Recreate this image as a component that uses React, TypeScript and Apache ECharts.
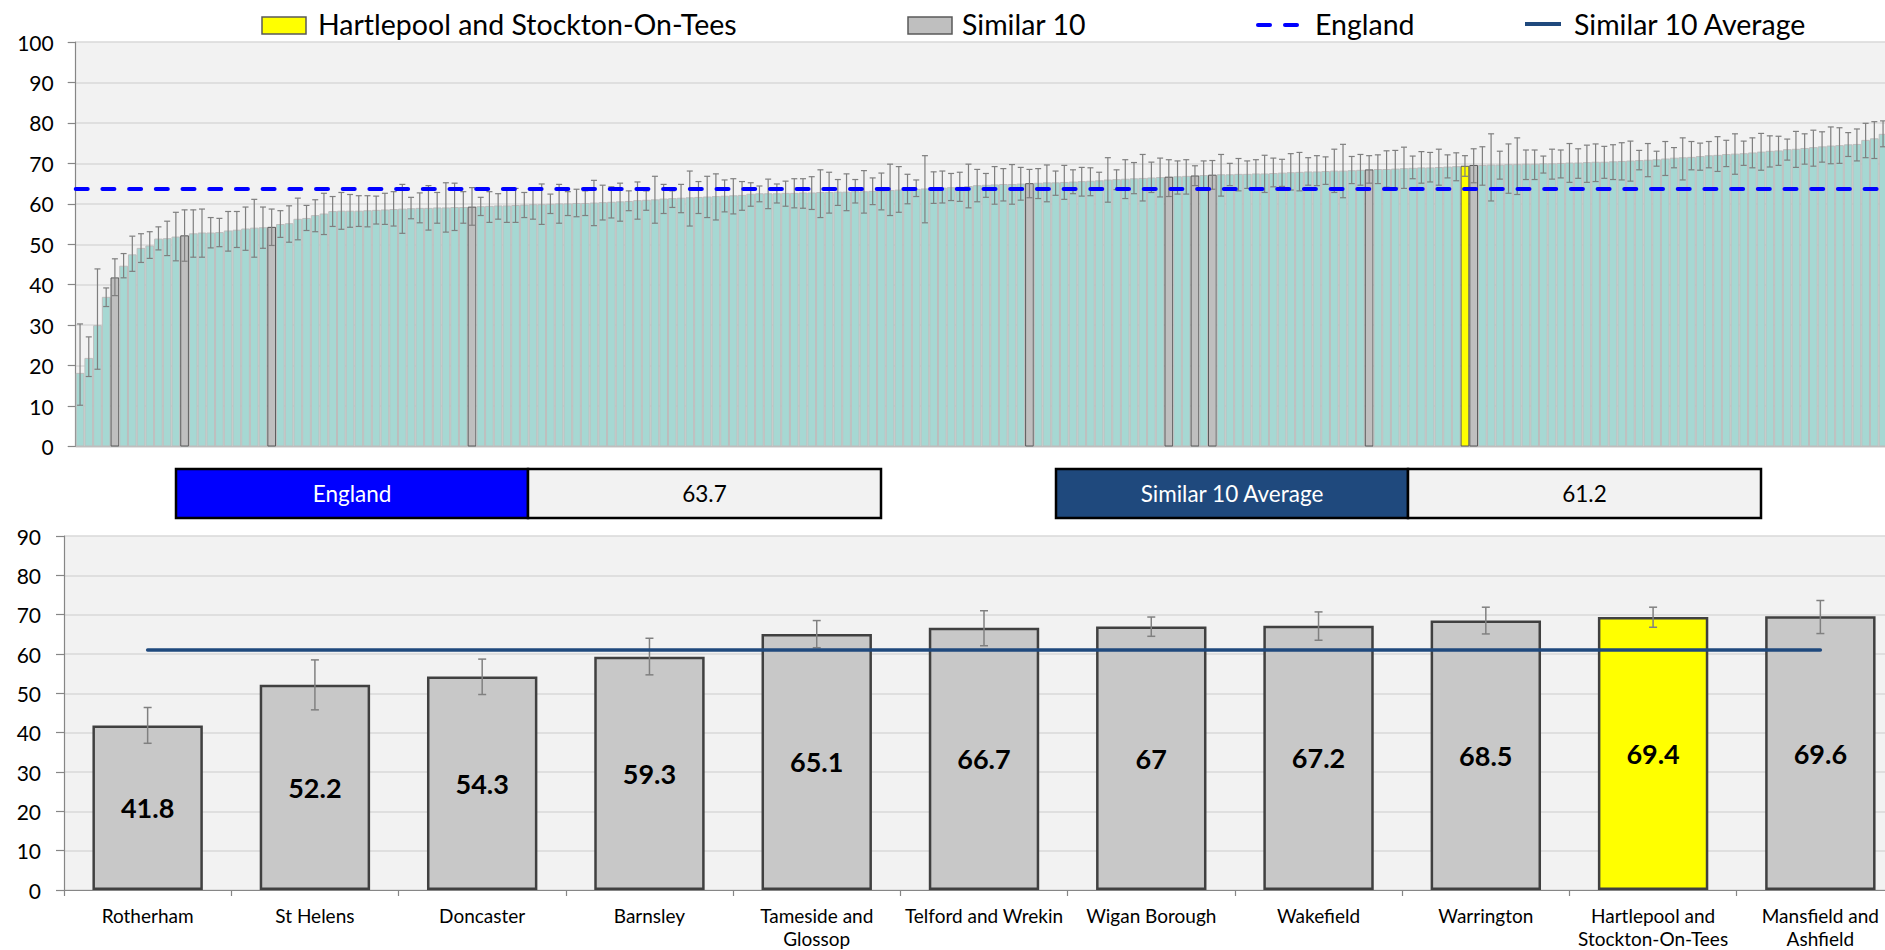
import React, { useEffect, useRef } from 'react';
import * as echarts from 'echarts';

// ---------- data ----------
const englandValue = 63.7;
const similarAverage = 61.2;
const targetName = 'Hartlepool and Stockton-On-Tees';

// All areas, sorted ascending (top chart)
const allValues = [
  18.2, 21.9, 30.0, 37.0, 41.8, 44.7, 47.5, 49.1, 49.7, 51.4,
  51.5, 51.9, 52.2, 52.7, 52.9, 52.9, 53.0, 53.4, 53.6, 53.9,
  54.1, 54.2, 54.3, 55.0, 55.2, 56.3, 56.5, 57.2, 57.6, 58.2,
  58.3, 58.3, 58.3, 58.4, 58.5, 58.6, 58.7, 58.8, 58.9, 59.0,
  59.0, 59.1, 59.1, 59.2, 59.2, 59.3, 59.4, 59.5, 59.6, 59.6,
  59.7, 59.8, 59.9, 59.9, 60.0, 60.1, 60.1, 60.2, 60.2, 60.3,
  60.4, 60.5, 60.6, 60.7, 60.9, 61.0, 61.1, 61.3, 61.4, 61.5,
  61.6, 61.7, 61.8, 61.9, 62.0, 62.1, 62.2, 62.5, 62.6, 62.6,
  62.6, 62.7, 62.7, 62.8, 62.8, 62.9, 62.9, 63.0, 63.0, 63.1,
  63.1, 63.2, 63.3, 63.4, 63.5, 63.6, 63.7, 63.8, 63.9, 64.0,
  64.1, 64.2, 64.4, 64.6, 64.7, 64.8, 64.9, 64.9, 65.0, 65.1,
  65.2, 65.3, 65.3, 65.4, 65.5, 65.6, 65.7, 65.8, 66.0, 66.1,
  66.2, 66.3, 66.4, 66.5, 66.6, 66.7, 66.8, 66.9, 67.0, 67.1,
  67.2, 67.3, 67.3, 67.4, 67.4, 67.5, 67.5, 67.6, 67.7, 67.8,
  67.9, 68.0, 68.0, 68.1, 68.2, 68.2, 68.3, 68.4, 68.5, 68.6,
  68.6, 68.7, 68.8, 68.9, 69.0, 69.0, 69.1, 69.2, 69.3, 69.4,
  69.6, 69.6, 69.7, 69.7, 69.8, 69.8, 69.9, 69.9, 70.0, 70.0,
  70.1, 70.2, 70.2, 70.3, 70.4, 70.4, 70.5, 70.6, 70.7, 70.8,
  70.9, 71.0, 71.2, 71.4, 71.5, 71.6, 71.8, 72.0, 72.1, 72.3,
  72.4, 72.5, 72.7, 72.9, 73.1, 73.2, 73.5, 73.6, 73.8, 74.0,
  74.2, 74.4, 74.5, 74.7, 74.8, 75.8, 76.2, 77.3,
];
const allUpper = [
  30.3, 27.1, 43.9, 39.2, 46.4, 47.7, 52.0, 52.6, 53.1, 54.3,
  55.7, 57.9, 58.5, 58.5, 58.7, 56.6, 56.4, 58.1, 58.1, 59.2,
  61.1, 59.2, 58.7, 58.3, 59.5, 61.4, 59.6, 61.0, 62.6, 61.8,
  62.8, 62.3, 62.0, 62.0, 61.9, 62.6, 63.0, 64.8, 61.6, 62.7,
  64.5, 62.8, 65.2, 65.1, 63.0, 64.0, 61.6, 63.0, 62.5, 63.4,
  63.8, 62.8, 63.3, 64.9, 62.4, 64.8, 63.0, 63.6, 63.2, 65.8,
  64.6, 64.2, 65.1, 63.2, 65.4, 63.2, 66.8, 64.8, 63.2, 64.8,
  68.1, 65.5, 66.8, 67.4, 65.9, 66.2, 65.5, 65.2, 64.4, 66.1,
  64.9, 65.6, 66.2, 66.2, 66.7, 68.4, 67.8, 66.0, 67.4, 66.0,
  68.2, 66.4, 67.6, 69.8, 69.2, 67.3, 65.9, 71.9, 67.9, 68.1,
  67.5, 67.8, 69.8, 68.5, 67.5, 69.2, 68.7, 69.7, 69.0, 68.5,
  68.7, 69.6, 68.1, 69.5, 68.4, 69.0, 68.9, 67.8, 71.4, 68.4,
  70.9, 70.2, 72.2, 70.3, 71.3, 70.9, 70.6, 70.9, 69.4, 70.6,
  70.7, 72.2, 70.0, 71.2, 70.6, 70.9, 72.0, 71.3, 71.0, 72.4,
  72.7, 71.4, 71.9, 71.6, 73.5, 74.7, 71.7, 72.2, 71.9, 72.1,
  73.1, 73.2, 74.0, 71.8, 72.9, 72.7, 73.5, 72.1, 72.6, 71.9,
  73.6, 74.1, 77.3, 73.0, 74.8, 76.3, 73.3, 73.3, 71.8, 73.5,
  73.3, 74.9, 73.6, 74.5, 74.8, 74.2, 74.6, 75.1, 75.5, 73.2,
  74.9, 73.0, 75.4, 73.9, 76.3, 75.4, 75.0, 75.4, 76.6, 75.7,
  77.3, 75.5, 76.3, 77.4, 76.8, 76.7, 76.0, 77.9, 77.3, 78.2,
  77.8, 79.0, 78.8, 77.6, 78.5, 79.9, 80.3, 80.5,
];
const allLower = [
  10.2, 17.3, 19.1, 34.6, 37.3, 41.7, 43.3, 45.5, 46.5, 48.6,
  47.2, 45.9, 45.8, 46.8, 46.8, 49.1, 49.4, 48.3, 49.2, 48.5,
  46.8, 49.0, 49.7, 51.7, 50.5, 51.1, 53.4, 53.1, 52.4, 54.4,
  53.7, 54.2, 54.4, 54.3, 55.0, 54.9, 54.5, 52.7, 56.3, 55.3,
  53.5, 55.2, 53.0, 53.4, 55.2, 54.7, 57.1, 55.4, 56.2, 55.4,
  55.4, 56.6, 56.2, 54.9, 57.6, 55.2, 57.1, 56.8, 57.1, 54.6,
  56.0, 56.5, 55.7, 58.3, 56.2, 58.4, 55.2, 57.6, 59.1, 57.8,
  54.5, 57.6, 56.6, 56.0, 58.0, 57.5, 58.4, 59.4, 60.5, 58.8,
  60.2, 59.4, 59.0, 58.9, 58.6, 56.6, 57.7, 59.6, 58.3, 60.2,
  57.7, 59.8, 58.5, 57.1, 57.9, 60.0, 61.8, 55.3, 60.1, 60.2,
  60.8, 60.6, 59.0, 60.5, 61.6, 59.9, 60.7, 59.9, 60.9, 61.5,
  61.3, 60.5, 62.1, 61.1, 62.5, 61.9, 62.0, 63.7, 60.4, 63.5,
  61.3, 62.5, 60.7, 62.8, 61.7, 61.8, 62.4, 62.4, 64.5, 63.7,
  63.6, 61.9, 64.5, 63.2, 63.8, 63.8, 62.8, 64.2, 64.3, 63.4,
  63.2, 64.6, 64.5, 64.8, 62.8, 61.5, 65.0, 64.6, 65.1, 65.0,
  64.1, 63.9, 63.8, 66.2, 65.1, 65.4, 64.6, 66.4, 65.7, 66.8,
  65.2, 64.6, 60.7, 66.1, 62.6, 62.3, 66.0, 66.0, 67.6, 66.1,
  66.4, 65.3, 66.3, 65.3, 65.5, 66.3, 66.0, 65.9, 65.6, 68.4,
  66.7, 69.3, 67.0, 68.9, 65.9, 68.4, 68.3, 68.9, 68.0, 69.2,
  67.3, 69.5, 68.9, 68.3, 69.1, 69.5, 70.8, 69.0, 69.8, 69.3,
  70.3, 69.9, 70.0, 71.7, 70.6, 71.4, 71.2, 74.1,
];
// positions (in the sorted list) of the similar 10 and of the target area
const similarIdx = [4, 12, 22, 45, 109, 125, 128, 130, 148, 160];
const targetIdx = 159;

// Bottom chart
const similarNames = [
  'Rotherham', 'St Helens', 'Doncaster', 'Barnsley', 'Tameside and Glossop',
  'Telford and Wrekin', 'Wigan Borough', 'Wakefield', 'Warrington',
  'Hartlepool and Stockton-On-Tees', 'Mansfield and Ashfield',
];
const similarValues = [41.8, 52.2, 54.3, 59.3, 65.1, 66.7, 67, 67.2, 68.5, 69.4, 69.6];
const similarLower = [37.3, 45.8, 49.7, 54.7, 61.6, 62.1, 64.5, 63.5, 65.1, 66.8, 65.2];
const similarUpper = [46.4, 58.5, 58.7, 64.0, 68.5, 71.0, 69.4, 70.7, 71.9, 71.9, 73.6];

// ---------- styles ----------
const FONT = 'Lato';
const TEAL = '#A6D8D3';
const GREY = '#BFBFBF';
const YELLOW = '#FFFF00';
const ENGLAND_BLUE = '#0000FF';
const AVG_BLUE = '#1F497D';
const PLOT_BG = '#F2F2F2';
const GRID_LINE = '#D9D9D9';
const AXIS = '#868686';

function wrapLabel(v: string): string {
  const words = v.split(' ');
  const lines: string[] = [];
  let cur = '';
  for (const w of words) {
    const next = cur ? cur + ' ' + w : w;
    if (next.length > 18 && cur) {
      lines.push(cur);
      cur = w;
    } else cur = next;
  }
  if (cur) lines.push(cur);
  return lines.join('\n');
}

function errRender(cap: number, color: string, lw: number) {
  return (params: any, api: any) => {
    const x = api.value(0);
    const lo = api.coord([x, api.value(1)]);
    const hi = api.coord([x, api.value(2)]);
    const h = cap / 2;
    const style = { stroke: color, lineWidth: lw };
    return {
      type: 'group',
      children: [
        { type: 'line', shape: { x1: hi[0], y1: hi[1], x2: lo[0], y2: lo[1] }, style },
        { type: 'line', shape: { x1: hi[0] - h, y1: hi[1], x2: hi[0] + h, y2: hi[1] }, style },
        { type: 'line', shape: { x1: lo[0] - h, y1: lo[1], x2: lo[0] + h, y2: lo[1] }, style },
      ],
    };
  };
}

function buildOption(): any {
  const allCats = allValues.map((_, i) => String(i + 1));
  const topBarData = allValues.map((v, i) => {
    if (i === targetIdx)
      return { value: v, itemStyle: { color: YELLOW, borderColor: '#595959', borderWidth: 1 } };
    if (similarIdx.includes(i))
      return { value: v, itemStyle: { color: GREY, borderColor: '#595959', borderWidth: 1 } };
    return v;
  });
  const bottomBarData = similarValues.map((v, i) => ({
    value: v,
    itemStyle: {
      color: similarNames[i] === targetName ? YELLOW : '#C8C8C8',
      borderColor: '#404040',
      borderWidth: 2.5,
    },
  }));

  const textBase = { fontFamily: FONT };
  const legendY = 24;
  const legendFont = 28.5;
  const boxFont = 22.5;
  const boxY = 469;
  const boxH = 49;

  return {
    animation: false,
    backgroundColor: '#FFFFFF',
    textStyle: { fontFamily: FONT },
    grid: [
      { left: 75.7, top: 42, width: 1811.7, height: 404.5, show: true, backgroundColor: PLOT_BG, borderWidth: 0 },
      { left: 64, top: 536, width: 1840, height: 355, show: true, backgroundColor: PLOT_BG, borderWidth: 0 },
    ],
    xAxis: [
      {
        type: 'category', gridIndex: 0, data: allCats,
        axisLabel: { show: false }, axisTick: { show: false },
        axisLine: { show: true, lineStyle: { color: '#BFBFBF', width: 1 } },
      },
      {
        type: 'category', gridIndex: 1, data: similarNames,
        axisTick: { show: true, length: 6, lineStyle: { color: AXIS, width: 1.2 } },
        axisLine: { show: true, lineStyle: { color: AXIS, width: 1.2 } },
        axisLabel: {
          interval: 0, margin: 14, fontSize: 19, lineHeight: 23, color: '#000',
          fontFamily: FONT, formatter: (v: string) => wrapLabel(v),
        },
      },
    ],
    yAxis: [
      {
        type: 'value', gridIndex: 0, min: 0, max: 100, interval: 10,
        axisLine: { show: true, lineStyle: { color: AXIS, width: 1.2 } },
        axisTick: { show: true, length: 8, lineStyle: { color: AXIS, width: 1.2 } },
        axisLabel: { fontSize: 21, color: '#000', margin: 22, fontFamily: FONT },
        splitLine: { show: true, lineStyle: { color: GRID_LINE, width: 1.5 } },
      },
      {
        type: 'value', gridIndex: 1, min: 0, max: 90, interval: 10,
        axisLine: { show: true, lineStyle: { color: AXIS, width: 1.2 } },
        axisTick: { show: true, length: 8, lineStyle: { color: AXIS, width: 1.2 } },
        axisLabel: { fontSize: 21, color: '#000', margin: 23, fontFamily: FONT },
        splitLine: { show: true, lineStyle: { color: GRID_LINE, width: 1.5 } },
      },
    ],
    series: [
      {
        name: 'All areas', type: 'bar', xAxisIndex: 0, yAxisIndex: 0,
        data: topBarData, barCategoryGap: '0%', barGap: '0%',
        itemStyle: { color: TEAL, borderColor: '#BDBDBD', borderWidth: 1 },
        z: 2,
      },
      {
        name: 'All areas CI', type: 'custom', xAxisIndex: 0, yAxisIndex: 0,
        data: allValues.map((_, i) => [i, allLower[i], allUpper[i]]),
        encode: { x: 0, y: [1, 2] },
        renderItem: errRender(6, '#7F7F7F', 1.2),
        z: 3, silent: true,
      },
      {
        name: 'England', type: 'line', xAxisIndex: 0, yAxisIndex: 0,
        data: [], z: 4,
        markLine: {
          silent: true, symbol: 'none', label: { show: false },
          lineStyle: { color: ENGLAND_BLUE, width: 4, type: [12, 14.7], cap: 'round' },
          data: [{ yAxis: englandValue }],
        },
      },
      {
        name: 'Similar 10', type: 'bar', xAxisIndex: 1, yAxisIndex: 1,
        data: bottomBarData, barCategoryGap: '34%',
        label: {
          show: true, position: 'inside', fontSize: 27, fontWeight: 'bold',
          color: '#000', fontFamily: FONT,
        },
        z: 2,
      },
      {
        name: 'Similar 10 CI', type: 'custom', xAxisIndex: 1, yAxisIndex: 1,
        data: similarValues.map((_, i) => [i, similarLower[i], similarUpper[i]]),
        encode: { x: 0, y: [1, 2] },
        renderItem: errRender(8, '#808080', 1.5),
        z: 3, silent: true,
      },
      {
        name: 'Similar 10 Average', type: 'line', xAxisIndex: 1, yAxisIndex: 1,
        data: [], z: 4,
        markLine: {
          silent: true, symbol: 'none', label: { show: false },
          lineStyle: { color: AVG_BLUE, width: 3.5, type: 'solid', cap: 'round' },
          data: [[
            { coord: [similarNames[0], similarAverage] },
            { coord: [similarNames[similarNames.length - 1], similarAverage] },
          ]],
        },
      },
    ],
    graphic: [
      // legend
      { type: 'rect', shape: { x: 262, y: 17, width: 44, height: 17 }, style: { fill: YELLOW, stroke: '#595959', lineWidth: 1.5 } },
      { type: 'text', x: 318, y: legendY, style: { ...textBase, text: targetName, fontSize: legendFont, fill: '#000', textAlign: 'left', textVerticalAlign: 'middle' } },
      { type: 'rect', shape: { x: 908, y: 17, width: 44, height: 17 }, style: { fill: GREY, stroke: '#595959', lineWidth: 1.5 } },
      { type: 'text', x: 962, y: legendY, style: { ...textBase, text: 'Similar 10', fontSize: legendFont, fill: '#000', textAlign: 'left', textVerticalAlign: 'middle' } },
      { type: 'line', shape: { x1: 1258, y1: 25, x2: 1270, y2: 25 }, style: { stroke: ENGLAND_BLUE, lineWidth: 4, lineCap: 'round' } },
      { type: 'line', shape: { x1: 1285, y1: 25, x2: 1297, y2: 25 }, style: { stroke: ENGLAND_BLUE, lineWidth: 4, lineCap: 'round' } },
      { type: 'text', x: 1315, y: legendY, style: { ...textBase, text: 'England', fontSize: legendFont, fill: '#000', textAlign: 'left', textVerticalAlign: 'middle' } },
      { type: 'line', shape: { x1: 1525, y1: 24, x2: 1561, y2: 24 }, style: { stroke: AVG_BLUE, lineWidth: 4 } },
      { type: 'text', x: 1574, y: legendY, style: { ...textBase, text: 'Similar 10 Average', fontSize: legendFont, fill: '#000', textAlign: 'left', textVerticalAlign: 'middle' } },
      // summary boxes
      { type: 'rect', shape: { x: 176, y: boxY, width: 352, height: boxH }, style: { fill: ENGLAND_BLUE, stroke: '#000', lineWidth: 2.5 } },
      { type: 'rect', shape: { x: 528, y: boxY, width: 353, height: boxH }, style: { fill: PLOT_BG, stroke: '#000', lineWidth: 2.5 } },
      { type: 'text', x: 352, y: boxY + boxH / 2, style: { ...textBase, text: 'England', fontSize: boxFont, fill: '#FFFFFF', textAlign: 'center', textVerticalAlign: 'middle' } },
      { type: 'text', x: 704.5, y: boxY + boxH / 2, style: { ...textBase, text: String(englandValue), fontSize: boxFont, fill: '#000', textAlign: 'center', textVerticalAlign: 'middle' } },
      { type: 'rect', shape: { x: 1056, y: boxY, width: 352, height: boxH }, style: { fill: AVG_BLUE, stroke: '#000', lineWidth: 2.5 } },
      { type: 'rect', shape: { x: 1408, y: boxY, width: 353, height: boxH }, style: { fill: PLOT_BG, stroke: '#000', lineWidth: 2.5 } },
      { type: 'text', x: 1232, y: boxY + boxH / 2, style: { ...textBase, text: 'Similar 10 Average', fontSize: boxFont, fill: '#FFFFFF', textAlign: 'center', textVerticalAlign: 'middle' } },
      { type: 'text', x: 1584.5, y: boxY + boxH / 2, style: { ...textBase, text: String(similarAverage), fontSize: boxFont, fill: '#000', textAlign: 'center', textVerticalAlign: 'middle' } },
    ],
  };
}

export default function App() {
  const ref = useRef<HTMLDivElement>(null);
  useEffect(() => {
    if (!ref.current) return;
    const chart = echarts.init(ref.current, null, { renderer: 'svg' });
    chart.setOption(buildOption());
    return () => chart.dispose();
  }, []);
  return (
    <div style={{ position: 'fixed', left: 0, top: 0, width: 1885, height: 950, overflow: 'hidden', background: '#FFFFFF' }}>
      <div ref={ref} style={{ width: 1910, height: 950 }} />
    </div>
  );
}
